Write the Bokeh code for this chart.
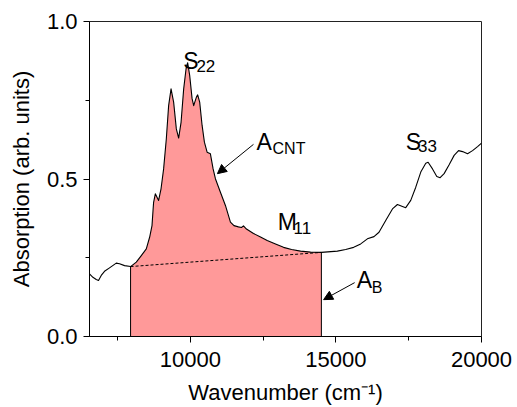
from bokeh.plotting import figure
from bokeh.models import Label, Arrow, NormalHead, FixedTicker, Range1d
from bokeh.embed import file_html
from bokeh.resources import INLINE

# ---- data ----
wavenumber = [6535, 6652, 6766, 6845, 6938, 7051, 7223, 7454, 7567, 7739,
              7946, 8142, 8314, 8486, 8600, 8682, 8717, 8737, 8796, 8909,
              8992, 9081, 9174, 9253, 9336, 9425, 9518, 9597, 9680, 9770,
              9852, 9907, 9976, 10059, 10114, 10207, 10251, 10320, 10403, 10482,
              10575, 10688, 10781, 10860, 11032, 11204, 11376, 11497, 11652, 11755,
              11824, 11927, 12168, 12409, 12639, 12925, 13200, 13476, 13785, 14129,
              14500, 15048, 15334, 15609, 15850, 16080, 16307, 16479, 16710, 16941,
              17113, 17285, 17398, 17570, 17742, 17914, 18086, 18166, 18317, 18465,
              18579, 18716, 18888, 19060, 19212, 19349, 19521, 19693, 19865, 20000]
absorption = [0.199, 0.188, 0.181, 0.178, 0.194, 0.207, 0.218, 0.233, 0.231, 0.225,
              0.222, 0.236, 0.257, 0.278, 0.315, 0.352, 0.400, 0.426, 0.453, 0.432,
              0.469, 0.532, 0.628, 0.733, 0.786, 0.744, 0.659, 0.630, 0.680, 0.786,
              0.850, 0.869, 0.829, 0.755, 0.733, 0.760, 0.767, 0.744, 0.670, 0.617,
              0.585, 0.580, 0.532, 0.501, 0.458, 0.416, 0.363, 0.352, 0.348, 0.346,
              0.351, 0.341, 0.327, 0.316, 0.305, 0.294, 0.283, 0.276, 0.271, 0.268,
              0.267, 0.271, 0.276, 0.283, 0.294, 0.310, 0.317, 0.331, 0.368, 0.405,
              0.419, 0.413, 0.409, 0.432, 0.474, 0.522, 0.550, 0.553, 0.532, 0.508,
              0.504, 0.517, 0.545, 0.575, 0.590, 0.587, 0.580, 0.590, 0.603, 0.614]

fill_start = 7946
fill_end = 14500
baseline_x = [7946, 14500]
baseline_y = [0.222, 0.267]

x_ticks = [10000, 15000, 20000]
x_minor = [7500, 12500, 17500]
x_labels = ["10000", "15000", "20000"]
y_ticks = [0.0, 0.5, 1.0]
y_minor = [0.25, 0.75]
y_labels = ["0.0", "0.5", "1.0"]

FONT = "Liberation Sans"

p = figure(width=517, height=407, output_backend="svg", toolbar_location=None,
           x_range=Range1d(6535, 20000), y_range=Range1d(0, 1.0),
           min_border_left=89, min_border_right=36, min_border_top=21, min_border_bottom=71)
p.background_fill_color = "white"
p.border_fill_color = "white"
p.xgrid.visible = False
p.ygrid.visible = False
p.outline_line_color = "#222222"
p.outline_line_width = 1

# fill region
fx = [x for x in wavenumber if fill_start <= x <= fill_end]
fy = [y for x, y in zip(wavenumber, absorption) if fill_start <= x <= fill_end]
p.varea(x=fx, y1=[0] * len(fx), y2=fy, fill_color="#ff9999", fill_alpha=1.0)
p.segment(x0=[fx[0], fx[-1]], y0=[0, 0], x1=[fx[0], fx[-1]], y1=[fy[0], fy[-1]],
          line_color="black", line_width=1)
p.line(baseline_x, baseline_y, line_color="black", line_width=1, line_dash="3 2")
p.line(wavenumber, absorption, line_color="black", line_width=1.1, line_join="round")

# axes
for ax, ticks, minor, labels in ((p.xaxis[0], x_ticks, x_minor, x_labels),
                                 (p.yaxis[0], y_ticks, y_minor, y_labels)):
    ax.ticker = FixedTicker(ticks=ticks, minor_ticks=minor)
    ax.major_label_overrides = {t: l for t, l in zip(ticks, labels)}
    ax.major_tick_in = 0
    ax.major_tick_out = 6
    ax.minor_tick_in = 0
    ax.minor_tick_out = 4
    ax.axis_line_color = "black"
    ax.major_tick_line_color = "black"
    ax.minor_tick_line_color = "black"
    ax.major_label_text_font = FONT
    ax.major_label_text_font_size = "22px"
    ax.major_label_text_color = "black"
    ax.axis_label_text_font = FONT
    ax.axis_label_text_font_size = "22px"
    ax.axis_label_text_font_style = "normal"
    ax.axis_label_text_color = "black"

p.xaxis.axis_label = "Wavenumber (cm\u207b\u00b9)"
p.yaxis.axis_label = "Absorption (arb. units)"
p.xaxis.major_label_standoff = 9
p.xaxis.axis_label_standoff = 10
p.yaxis.major_label_standoff = 6
p.yaxis.axis_label_standoff = 10

# annotations
def lab(x, y, t, size):
    p.add_layout(Label(x=x, y=y, text=t, text_font=FONT, text_font_size=size,
                       text_baseline="alphabetic", text_align="left", text_color="black"))

lab(9759, 0.876, "S", "23px"); lab(10207, 0.860, "22", "17px")
lab(12271, 0.617, "A", "23px"); lab(12822, 0.597, "CNT", "16px")
lab(13004, 0.365, "M", "23px"); lab(13544, 0.346, "11", "17px")
lab(17398, 0.619, "S", "23px"); lab(17821, 0.604, "33", "17px")
lab(15712, 0.178, "A", "23px"); lab(16228, 0.156, "B", "16px")

p.add_layout(Arrow(end=NormalHead(size=9, fill_color="black", line_color="black"),
                   x_start=12168, y_start=0.610, x_end=10929, y_end=0.517,
                   line_color="black", line_width=1))
p.add_layout(Arrow(end=NormalHead(size=9, fill_color="black", line_color="black"),
                   x_start=15643, y_start=0.171, x_end=14577, y_end=0.117,
                   line_color="black", line_width=1))

open("out.html", "w").write(file_html(p, INLINE))
